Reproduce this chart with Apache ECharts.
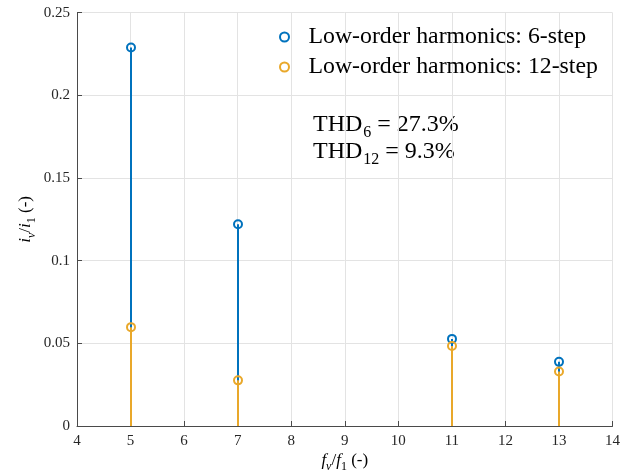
<!DOCTYPE html>
<html>
<head>
<meta charset="utf-8">
<script src="https://cdn.jsdelivr.net/npm/echarts@6/dist/echarts.min.js"></script>
<style>
html,body{margin:0;padding:0;background:#fff;}
#chart{width:632px;height:476px;}
</style>
</head>
<body>
<div id="chart"></div>
<script>
const harmonicOrders = [5, 7, 11, 13];
const sixStep = [0.229, 0.122, 0.0527, 0.0388];
const twelveStep = [0.0598, 0.0276, 0.0484, 0.0330];
const seriesNames = ['Low-order harmonics: 6-step', 'Low-order harmonics: 12-step'];
const xTicks = [4, 14, 1];
const yTicks = [0, 0.25, 0.05];

const FONT = 'Liberation Serif';
const BLUE = '#0072BD';
const ORANGE = '#E9A82A';

function stem(color) {
  return function (params, api) {
    const x = api.value(0), y = api.value(1);
    const p0 = api.coord([x, 0]);
    const p1 = api.coord([x, y]);
    const px = Math.round(p0[0]);
    return {
      type: 'group',
      children: [
        {type: 'line', shape: {x1: px, y1: p0[1], x2: px, y2: p1[1]},
         style: {stroke: color, lineWidth: 2}},
        {type: 'circle', shape: {cx: px, cy: p1[1], r: 4},
         style: {fill: 'none', stroke: color, lineWidth: 2}}
      ]
    };
  };
}

const chart = echarts.init(document.getElementById('chart'));
const mainRich = {
  i: {fontFamily: FONT, fontStyle: 'italic', fontSize: 17, color: '#000', verticalAlign: 'top', lineHeight: 20},
  s: {fontFamily: FONT, fontSize: 12, color: '#000', verticalAlign: 'top', lineHeight: 20, padding: [9, 0, 0, 0]},
  si: {fontFamily: FONT, fontStyle: 'italic', fontSize: 12, color: '#000', verticalAlign: 'top', lineHeight: 20, padding: [9, 0, 0, 0]},
  n: {fontFamily: FONT, fontSize: 17, color: '#000', verticalAlign: 'top', lineHeight: 20}
};
const thdRich = {
  n: {fontFamily: FONT, fontSize: 24, color: '#000', verticalAlign: 'top', lineHeight: 27},
  s: {fontFamily: FONT, fontSize: 16, color: '#000', verticalAlign: 'top', lineHeight: 16, padding: [12, 0, 0, 1]}
};
chart.setOption({
  animation: false,
  backgroundColor: '#fff',
  grid: {left: 77, right: 19.5, top: 12.7, bottom: 50, containLabel: false, outerBoundsMode: 'none'},
  xAxis: {
    type: 'value', min: xTicks[0], max: xTicks[1], interval: xTicks[2],
    name: '{i|f}{si|ν}{n|/}{i|f}{s|1}{n| (-)}',
    nameLocation: 'middle', nameGap: 26, nameMoveOverlap: false,
    nameTextStyle: {rich: mainRich},
    axisLine: {show: true, lineStyle: {color: '#4a4a4a', width: 1}},
    axisTick: {show: true, inside: true, length: 5, lineStyle: {color: '#4a4a4a'}},
    axisLabel: {fontFamily: FONT, fontSize: 15, color: '#262626', margin: 8},
    splitLine: {show: true, lineStyle: {color: '#e3e3e3', width: 1}}
  },
  yAxis: {
    type: 'value', min: yTicks[0], max: yTicks[1], interval: yTicks[2],
    name: '{i|i}{si|ν}{n|/}{i|i}{s|1}{n| (-)}',
    nameLocation: 'middle', nameGap: 40, nameRotate: 90, nameMoveOverlap: false,
    nameTextStyle: {rich: mainRich},
    axisLine: {show: true, lineStyle: {color: '#4a4a4a', width: 1}},
    axisTick: {show: true, inside: true, length: 5, lineStyle: {color: '#4a4a4a'}},
    axisLabel: {fontFamily: FONT, fontSize: 15, color: '#262626', margin: 7,
      formatter: v => String(+v.toFixed(2))},
    splitLine: {show: true, lineStyle: {color: '#e3e3e3', width: 1}}
  },
  legend: {
    orient: 'vertical', left: 274, top: 20, itemWidth: 38, itemHeight: 9, itemGap: 6,
    textStyle: {fontFamily: FONT, fontSize: 23.8, color: '#000', lineHeight: 23},
    data: [
      {name: seriesNames[0], icon: 'circle', itemStyle: {color: '#fff', borderColor: BLUE, borderWidth: 2}},
      {name: seriesNames[1], icon: 'circle', itemStyle: {color: '#fff', borderColor: ORANGE, borderWidth: 2}}
    ]
  },
  graphic: [
    {type: 'text', left: 313, top: 113, style: {text: '{n|THD}{s|6}{n| = 27.3%}', rich: thdRich}},
    {type: 'text', left: 313, top: 140, style: {text: '{n|THD}{s|12}{n| = 9.3%}', rich: thdRich}}
  ],
  series: [
    {name: seriesNames[0], type: 'custom', renderItem: stem(BLUE), itemStyle: {color: BLUE},
     encode: {x: 0, y: 1}, data: harmonicOrders.map((h, i) => [h, sixStep[i]])},
    {name: seriesNames[1], type: 'custom', renderItem: stem(ORANGE), itemStyle: {color: ORANGE},
     encode: {x: 0, y: 1}, data: harmonicOrders.map((h, i) => [h, twelveStep[i]])}
  ]
});
</script>
</body>
</html>
